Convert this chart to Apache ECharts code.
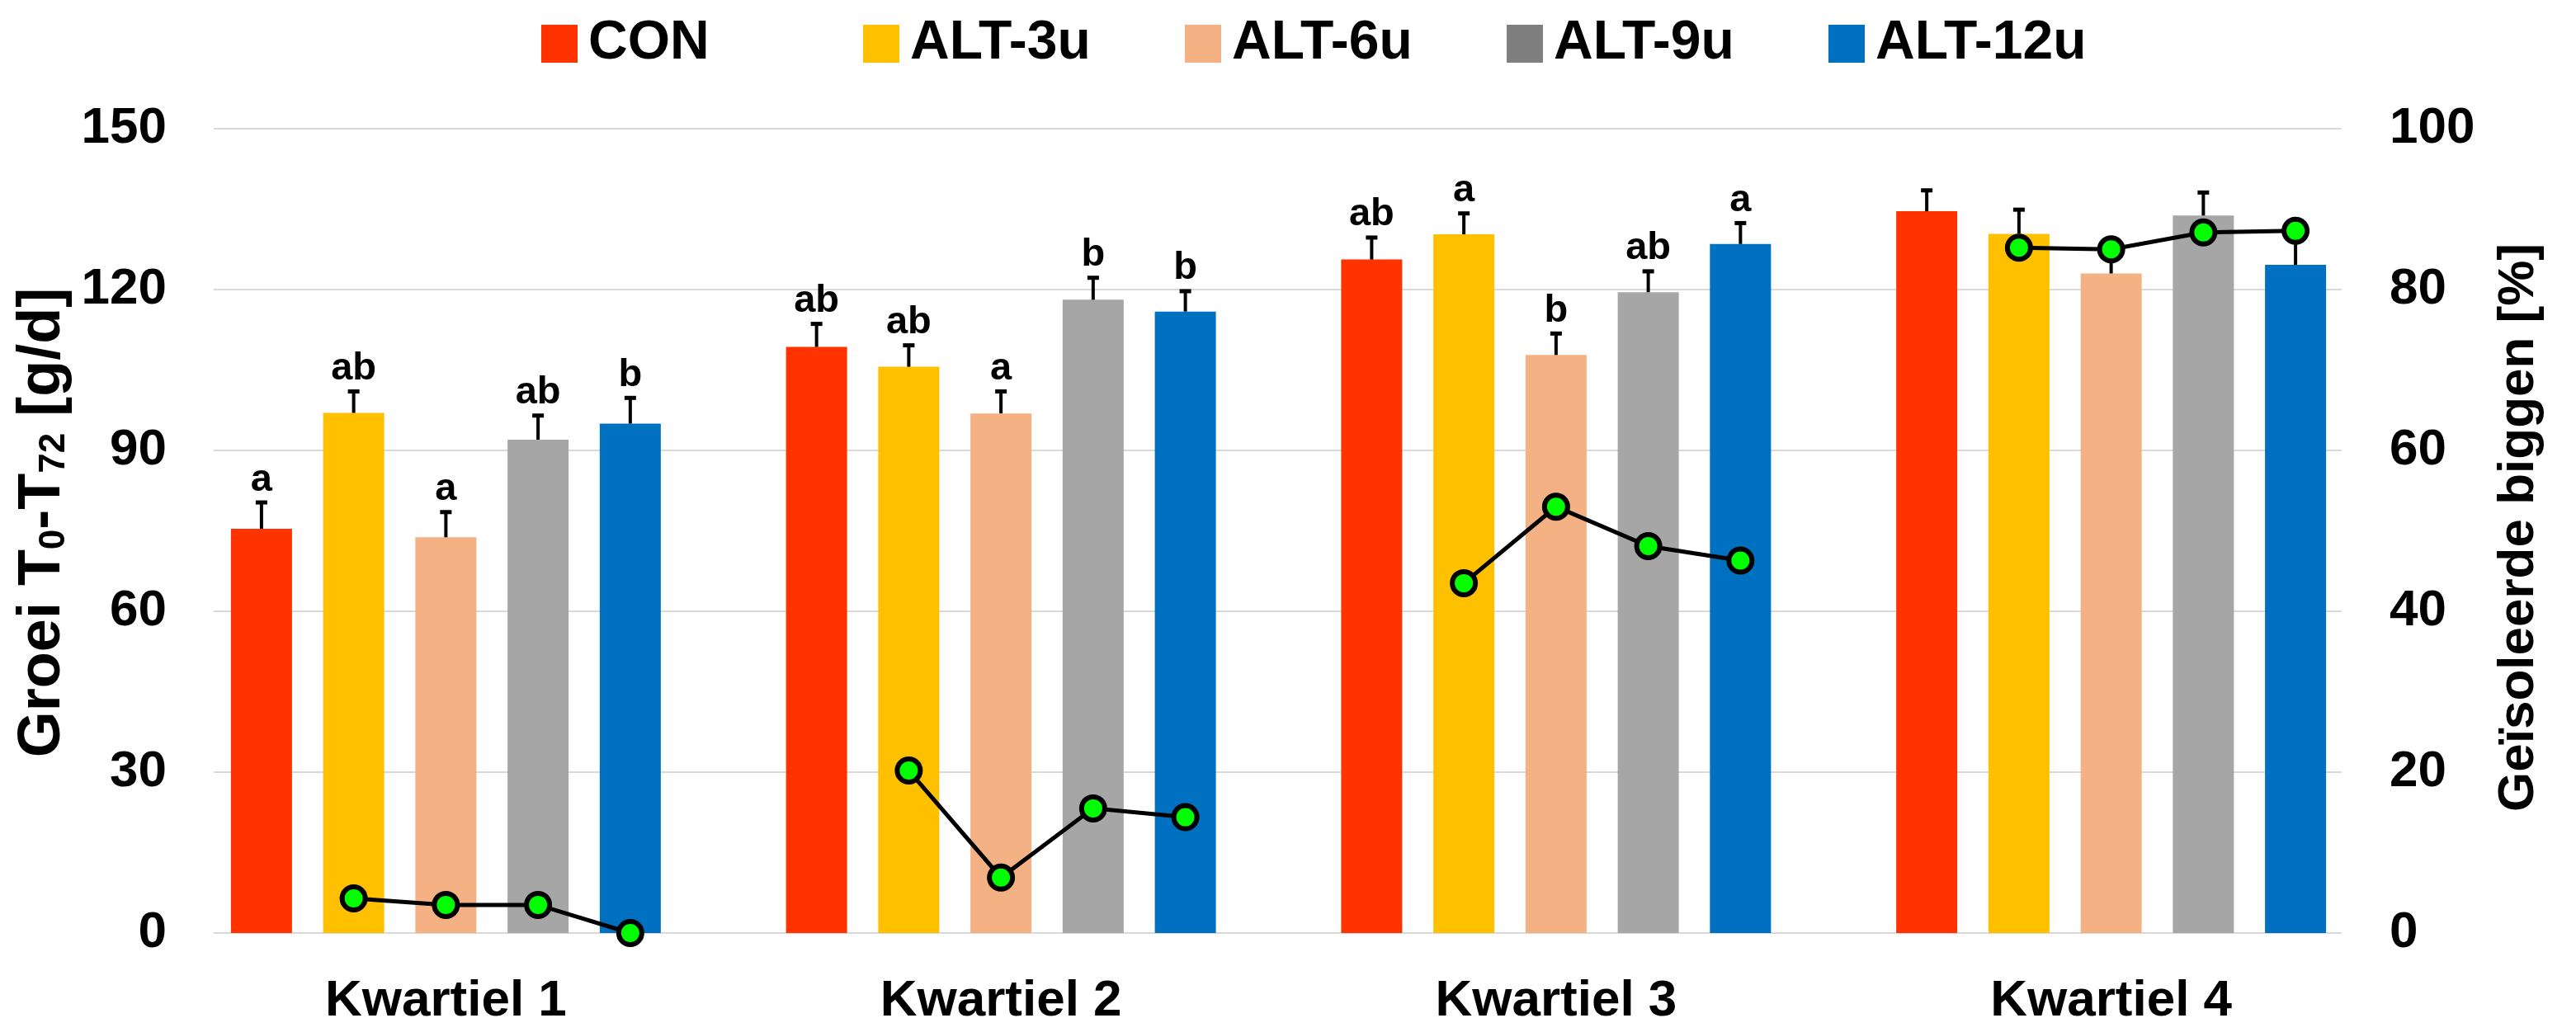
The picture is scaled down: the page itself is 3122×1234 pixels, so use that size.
<!DOCTYPE html>
<html>
<head>
<meta charset="utf-8">
<script src="https://cdn.jsdelivr.net/npm/echarts@6/dist/echarts.min.js"></script>
<style>
  html, body { margin: 0; padding: 0; background: #fff; }
  #chart { width: 3122px; height: 1234px; }
</style>
</head>
<body>
<div id="chart"></div>
<script>
// categorieen en groepen
const categories = ["Kwartiel 1", "Kwartiel 2", "Kwartiel 3", "Kwartiel 4"];
const groups = ["CON", "ALT-3u", "ALT-6u", "ALT-9u", "ALT-12u"];
const colors = ["#FF3300", "#FFC000", "#F4B183", "#A6A6A6", "#0070C0"];

// groei T0-T72 [g/d]
const groeiCON = [75.4, 109.3, 125.6, 134.6];
const groeiALT3 = [97.0, 105.6, 130.3, 130.4];
const groeiALT6 = [73.8, 96.9, 107.8, 123.0];
const groeiALT9 = [92.0, 118.1, 119.5, 133.8];
const groeiALT12 = [95.0, 115.9, 128.5, 124.6];

// foutbalk (alleen plus)
const semCON = [4.9, 4.3, 4.1, 3.9];
const semALT3 = [4.0, 4.0, 3.9, 4.5];
const semALT6 = [4.7, 4.1, 4.0, 4.0];
const semALT9 = [4.5, 4.1, 3.9, 4.3];
const semALT12 = [4.8, 3.8, 3.9, 4.5];

// significantie letters
const letCON = ["a", "ab", "ab", ""];
const letALT3 = ["ab", "ab", "a", ""];
const letALT6 = ["a", "a", "b", ""];
const letALT9 = ["ab", "b", "ab", ""];
const letALT12 = ["b", "b", "a", ""];

// geisoleerde biggen [%] (rechter as)
const isoALT3 = [4.3, 20.2, 43.5, 85.2];
const isoALT6 = [3.5, 6.9, 53.0, 85.0];
const isoALT9 = [3.5, 15.5, 48.1, 87.1];
const isoALT12 = [0.0, 14.4, 46.3, 87.3];

const groei = [groeiCON, groeiALT3, groeiALT6, groeiALT9, groeiALT12];
const sem = [semCON, semALT3, semALT6, semALT9, semALT12];
const letters = [letCON, letALT3, letALT6, letALT9, letALT12];

const BAR_W = 74;
const BAR_GAP = 0.51;
const BAR_STEP = BAR_W * (1 + BAR_GAP);
const FONT = "Liberation Sans";

const chart = echarts.init(document.getElementById("chart"));

// data voor foutbalken: [kwartiel, groep, gemiddelde, fout]
const errData = [];
const errLetters = [];
groups.forEach((g, k) => {
  categories.forEach((c, i) => {
    errData.push([i, k, groei[k][i], sem[k][i]]);
    errLetters.push(letters[k][i]);
  });
});

const isoData = categories.map((c, i) => [i, isoALT3[i], isoALT6[i], isoALT9[i], isoALT12[i]]);

function renderErr(params, api) {
  const cat = api.value(0);
  const k = api.value(1);
  const p0 = api.coord([cat, api.value(2)]);
  const p1 = api.coord([cat, api.value(2) + api.value(3)]);
  const x = p0[0] + (k - 2) * BAR_STEP;
  const children = [
    { type: "line", shape: { x1: x, y1: p0[1], x2: x, y2: p1[1] }, style: { stroke: "#000", lineWidth: 4 } },
    { type: "line", shape: { x1: x - 7, y1: p1[1], x2: x + 7, y2: p1[1] }, style: { stroke: "#000", lineWidth: 5 } },
  ];
  const txt = errLetters[params.dataIndex];
  if (txt) {
    children.push({
      type: "text",
      style: {
        x: x, y: p1[1] - 4, text: txt, fill: "#000",
        font: "bold 47px '" + FONT + "'", align: "center", verticalAlign: "bottom",
      },
    });
  }
  return { type: "group", children: children };
}

function renderIso(params, api) {
  const cat = api.value(0);
  const pts = [];
  for (let j = 1; j <= 4; j++) {
    const c = api.coord([cat, api.value(j)]);
    pts.push([c[0] + (j - 2) * BAR_STEP, c[1]]);
  }
  const children = [
    { type: "polyline", shape: { points: pts }, style: { stroke: "#000", lineWidth: 5, fill: null } },
  ];
  pts.forEach((p) => {
    children.push({
      type: "circle",
      shape: { cx: p[0], cy: p[1], r: 14 },
      style: { fill: "#00FF00", stroke: "#000", lineWidth: 6 },
    });
  });
  return { type: "group", children: children };
}

const barSeries = groups.map((g, k) => ({
  name: g,
  type: "bar",
  xAxisIndex: 1,
  yAxisIndex: 2,
  data: groei[k],
  barWidth: BAR_W,
  barGap: BAR_GAP * 100 + "%",
  itemStyle: { color: colors[k] },
  z: 2,
}));

// een legenda per groep, zodat de items even ver uit elkaar staan
const legends = groups.map((g, k) => ({
  left: 651 + k * 390,
  top: 15,
  icon: "rect",
  itemWidth: 44,
  itemHeight: 46,
  textStyle: { fontSize: 66, fontWeight: "bold", color: "#000", padding: [0, 0, 0, 8] },
  data: [k === 3 ? { name: g, itemStyle: { color: "#7F7F7F" } } : { name: g }],
}));

chart.setOption({
  animation: false,
  textStyle: { fontFamily: FONT, color: "#000" },
  legend: legends,
  grid: [
    { left: 259, right: 284, top: 156, bottom: 103, outerBoundsMode: "none", containLabel: false },
    { left: 204, right: 227, top: 156, bottom: 103, outerBoundsMode: "none", containLabel: false },
  ],
  xAxis: [
    { gridIndex: 0, type: "category", data: categories, show: false },
    {
      gridIndex: 1,
      type: "category",
      data: categories,
      axisLine: { show: false },
      axisTick: { show: false },
      axisLabel: { fontSize: 62, fontWeight: "bold", color: "#000", margin: 52 },
    },
  ],
  yAxis: [
    {
      gridIndex: 0,
      type: "value",
      min: 0,
      max: 150,
      interval: 30,
      name: "Groei T{s|0}-T{s|72} [g/d]",
      nameLocation: "middle",
      nameRotate: 90,
      nameGap: 163,
      nameTextStyle: {
        fontSize: 72, fontWeight: "bold", color: "#000", padding: [0, 0, 0, 20],
        rich: { s: { fontSize: 44, fontWeight: "bold", verticalAlign: "bottom", padding: [24, 0, 0, 0] } },
      },
      axisLine: { show: false },
      axisTick: { show: false },
      axisLabel: { fontSize: 62, fontWeight: "bold", color: "#000", margin: 57 },
      splitLine: { lineStyle: { color: "#D9D9D9", width: 2 } },
    },
    {
      gridIndex: 0,
      type: "value",
      position: "right",
      min: 0,
      max: 100,
      interval: 20,
      name: "Geïsoleerde biggen [%]",
      nameLocation: "middle",
      nameRotate: 90,
      nameGap: 184,
      nameTextStyle: { fontSize: 62, fontWeight: "bold", color: "#000", padding: [0, 0, 0, 8] },
      axisLine: { show: false },
      axisTick: { show: false },
      axisLabel: { fontSize: 62, fontWeight: "bold", color: "#000", margin: 58 },
      splitLine: { show: false },
    },
    { gridIndex: 1, type: "value", min: 0, max: 150, show: false, splitLine: { show: false } },
    { gridIndex: 1, type: "value", min: 0, max: 100, show: false, splitLine: { show: false } },
  ],
  series: [
    { type: "line", xAxisIndex: 0, yAxisIndex: 0, data: [], silent: true },
    ...barSeries,
    {
      type: "custom",
      name: "fout",
      xAxisIndex: 1,
      yAxisIndex: 2,
      data: errData,
      encode: { x: 0, y: 2 },
      renderItem: renderErr,
      z: 5,
      silent: true,
    },
    {
      type: "custom",
      name: "iso",
      xAxisIndex: 1,
      yAxisIndex: 3,
      data: isoData,
      encode: { x: 0, y: [1, 2, 3, 4] },
      renderItem: renderIso,
      clip: false,
      z: 10,
      silent: true,
    },
  ],
});
</script>
</body>
</html>
